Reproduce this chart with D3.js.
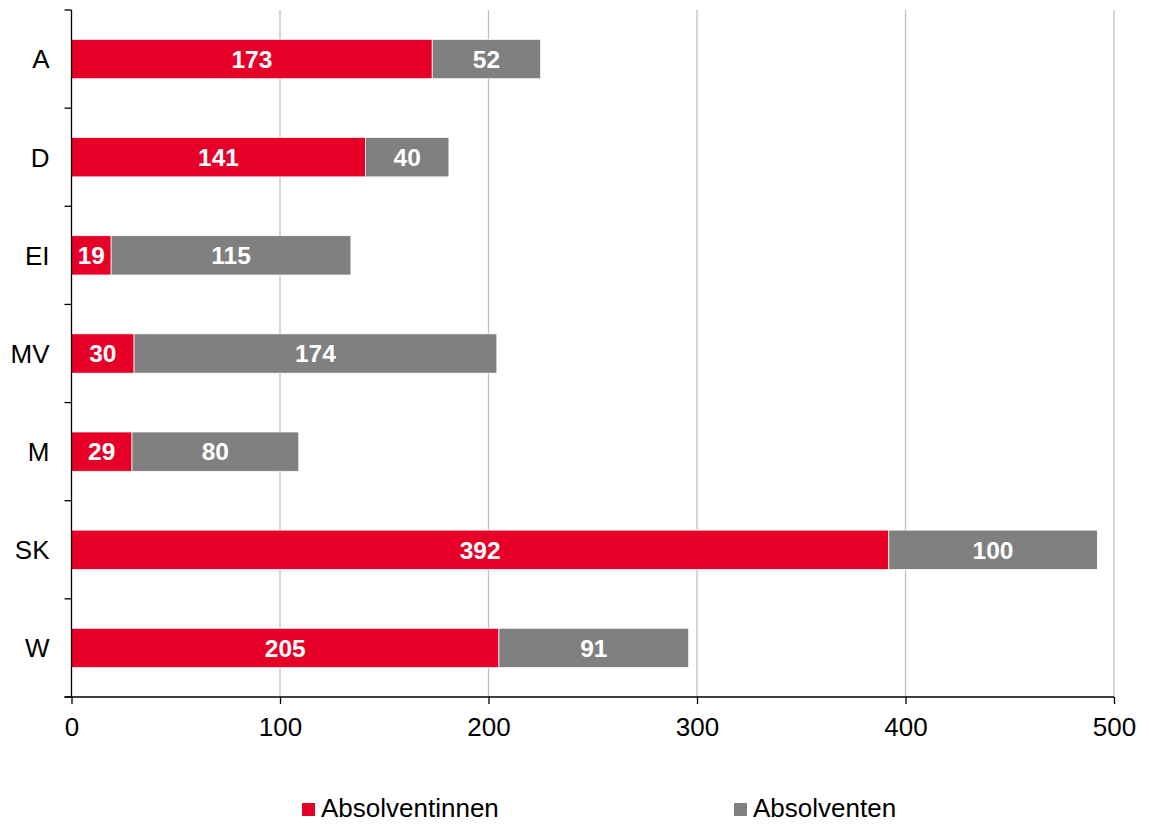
<!DOCTYPE html>
<html>
<head>
<meta charset="utf-8">
<script src="https://cdn.jsdelivr.net/npm/d3@7"></script>
<style>
  body { margin: 0; background: #fff; }
  svg { font-family: "Liberation Sans", Arial, sans-serif; }
</style>
</head>
<body>
<svg width="1149" height="825"></svg>
<script>
var categories = ["A", "D", "EI", "MV", "M", "SK", "W"];
var absolventinnen = [173, 141, 19, 30, 29, 392, 205];
var absolventen = [52, 40, 115, 174, 80, 100, 91];
var seriesNames = ["Absolventinnen", "Absolventen"];
var seriesColors = ["#e60028", "#808080"];
var xTicks = [0, 100, 200, 300, 400, 500];

var plotLeft = 71.5, plotRight = 1114, plotTop = 10, plotBottom = 697;

var svg = d3.select("svg");

var x = d3.scaleLinear().domain([0, 500]).range([plotLeft, plotRight]);
var y = d3.scaleBand().domain(categories).range([plotTop, plotBottom]).paddingInner(0.6).paddingOuter(0.3);
var yTicks = d3.scaleBand().domain(categories).range([plotTop, plotBottom]);

var rows = categories.map(function (c, i) {
    return { cat: c, a: absolventinnen[i], b: absolventen[i] };
});
var stacked = d3.stack().keys(["a", "b"])(rows);

// gridlines
svg.append("g").selectAll("line")
    .data(xTicks.filter(function (d) { return d > 0; }))
    .enter().append("line")
    .attr("x1", function (d) { return x(d); })
    .attr("x2", function (d) { return x(d); })
    .attr("y1", plotTop)
    .attr("y2", plotBottom)
    .attr("stroke", "#c0c0c0")
    .attr("stroke-width", 1.3);

// bars
var layer = svg.append("g").selectAll("g")
    .data(stacked)
    .enter().append("g")
    .attr("fill", function (d, i) { return seriesColors[i]; });

layer.selectAll("rect")
    .data(function (d) { return d; })
    .enter().append("rect")
    .attr("x", function (d) { return x(d[0]); })
    .attr("width", function (d) { return x(d[1]) - x(d[0]); })
    .attr("y", function (d) { return y(d.data.cat); })
    .attr("height", y.bandwidth())
    .attr("stroke", "#fff")
    .attr("stroke-width", 0.7);

// value labels
layer.selectAll("text")
    .data(function (d) { return d; })
    .enter().append("text")
    .attr("x", function (d) { return (x(d[0]) + x(d[1])) / 2; })
    .attr("y", function (d) { return y(d.data.cat) + y.bandwidth() / 2; })
    .attr("dy", "0.36em")
    .attr("text-anchor", "middle")
    .attr("fill", "#fff")
    .attr("font-weight", "bold")
    .attr("font-size", 24.5)
    .text(function (d) { return d[1] - d[0]; });

// y axis
var yAxis = svg.append("g");
yAxis.append("line")
    .attr("x1", plotLeft).attr("x2", plotLeft)
    .attr("y1", plotTop).attr("y2", plotBottom)
    .attr("stroke", "#000").attr("stroke-width", 1.3);
yAxis.selectAll(".tick")
    .data(categories.concat(["end"]))
    .enter().append("line")
    .attr("x1", plotLeft - 7).attr("x2", plotLeft)
    .attr("y1", function (d, i) { return i < categories.length ? yTicks(d) : plotBottom; })
    .attr("y2", function (d, i) { return i < categories.length ? yTicks(d) : plotBottom; })
    .attr("stroke", "#000").attr("stroke-width", 1.3);
yAxis.selectAll("text")
    .data(categories)
    .enter().append("text")
    .attr("x", 49.5)
    .attr("y", function (d) { return y(d) + y.bandwidth() / 2; })
    .attr("dy", "0.36em")
    .attr("text-anchor", "end")
    .attr("font-size", 26)
    .attr("fill", "#000")
    .text(function (d) { return d; });

// x axis
var xAxis = svg.append("g").attr("transform", "translate(0," + plotBottom + ")")
    .call(d3.axisBottom(x).tickValues(xTicks).tickSize(7).tickPadding(13.5).tickSizeOuter(0));
xAxis.select(".domain").attr("stroke", "#000").attr("stroke-width", 1.3)
    .attr("d", "M" + (plotLeft - 7) + ",0H" + plotRight);
xAxis.selectAll(".tick line").attr("stroke", "#000").attr("stroke-width", 1.3);
xAxis.selectAll(".tick text")
    .attr("font-size", 26)
    .attr("font-family", "Liberation Sans, Arial, sans-serif")
    .attr("fill", "#000");

// legend
var legendX = [302, 734];
var legend = svg.append("g").selectAll("g")
    .data(seriesNames)
    .enter().append("g")
    .attr("transform", function (d, i) { return "translate(" + legendX[i] + ",803)"; });
legend.append("rect")
    .attr("width", 13).attr("height", 13)
    .attr("fill", function (d, i) { return seriesColors[i]; });
legend.append("text")
    .attr("x", 19)
    .attr("y", 13.5)
    .attr("font-size", 26)
    .attr("fill", "#000")
    .text(function (d) { return d; });
</script>
</body>
</html>
